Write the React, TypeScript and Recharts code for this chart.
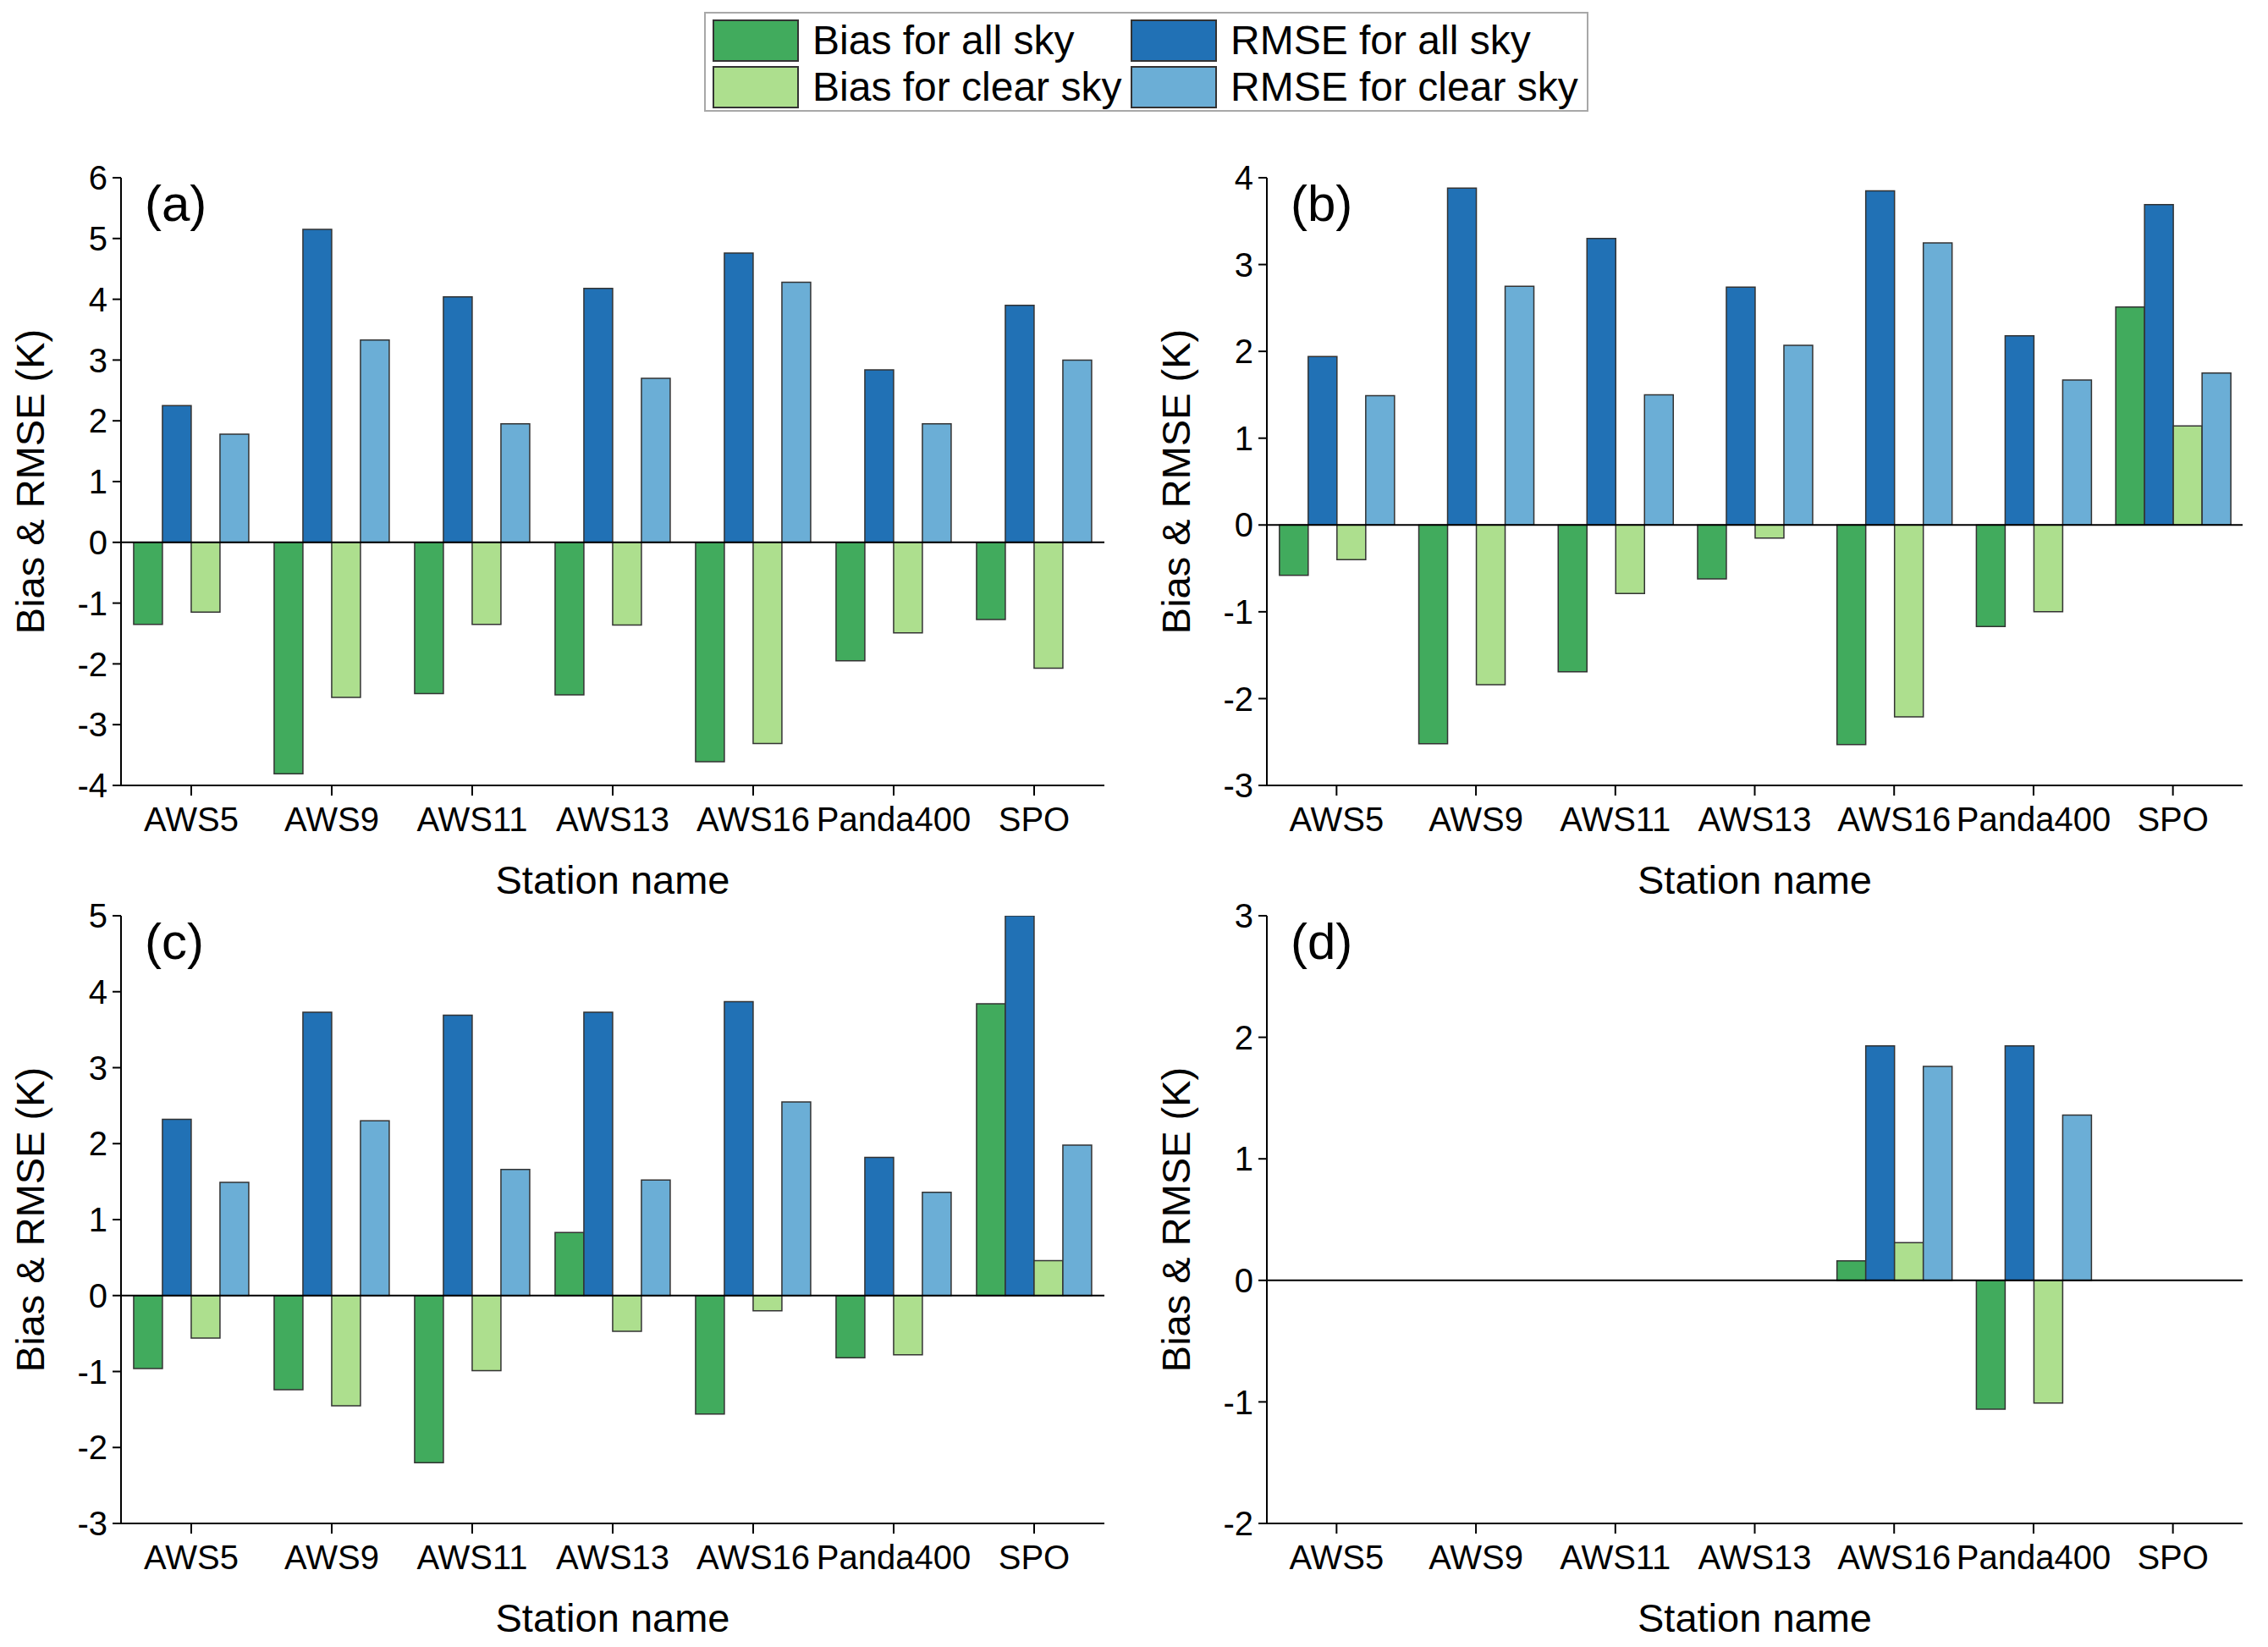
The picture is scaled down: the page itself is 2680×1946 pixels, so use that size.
import { BarChart, Bar, XAxis, YAxis, ReferenceLine } from 'recharts';

const stations = ['AWS5', 'AWS9', 'AWS11', 'AWS13', 'AWS16', 'Panda400', 'SPO'];

// panel (a)
const aBiasAll = [-1.35, -3.81, -2.49, -2.51, -3.61, -1.95, -1.27];
const aRmseAll = [2.25, 5.15, 4.04, 4.18, 4.76, 2.84, 3.9];
const aBiasClear = [-1.15, -2.55, -1.35, -1.36, -3.31, -1.49, -2.07];
const aRmseClear = [1.78, 3.33, 1.95, 2.7, 4.28, 1.95, 3.0];

// panel (b)
const bBiasAll = [-0.58, -2.52, -1.69, -0.62, -2.53, -1.17, 2.51];
const bRmseAll = [1.94, 3.88, 3.3, 2.74, 3.85, 2.18, 3.69];
const bBiasClear = [-0.4, -1.84, -0.79, -0.15, -2.21, -1.0, 1.14];
const bRmseClear = [1.49, 2.75, 1.5, 2.07, 3.25, 1.67, 1.75];

// panel (c)
const cBiasAll = [-0.96, -1.24, -2.2, 0.83, -1.56, -0.82, 3.84];
const cRmseAll = [2.32, 3.73, 3.69, 3.73, 3.87, 1.82, 5.0];
const cBiasClear = [-0.56, -1.45, -0.99, -0.47, -0.2, -0.78, 0.46];
const cRmseClear = [1.49, 2.3, 1.66, 1.52, 2.55, 1.36, 1.98];

// panel (d) only AWS16 and Panda400 have values
const dBiasAll = [null, null, null, null, 0.16, -1.06, null];
const dRmseAll = [null, null, null, null, 1.93, 1.93, null];
const dBiasClear = [null, null, null, null, 0.31, -1.01, null];
const dRmseClear = [null, null, null, null, 1.76, 1.36, null];

const aTicks = [-4, -3, -2, -1, 0, 1, 2, 3, 4, 5, 6];
const bTicks = [-3, -2, -1, 0, 1, 2, 3, 4];
const cTicks = [-3, -2, -1, 0, 1, 2, 3, 4, 5];
const dTicks = [-2, -1, 0, 1, 2, 3];

const seriesNames = ['Bias for all sky', 'RMSE for all sky', 'Bias for clear sky', 'RMSE for clear sky'];
const COLORS = {
  biasAll: '#41ab5d',
  rmseAll: '#2171b5',
  biasClear: '#addf8e',
  rmseClear: '#6baed6',
};

const FONT = '"Liberation Sans", Arial, sans-serif';

function build(biasAll, rmseAll, biasClear, rmseClear) {
  return stations.map((name, i) => ({
    name,
    biasAll: biasAll[i],
    rmseAll: rmseAll[i],
    biasClear: biasClear[i],
    rmseClear: rmseClear[i],
  }));
}

function YLabel(props: any) {
  const { viewBox } = props;
  const x = viewBox.x + viewBox.width - 108;
  const y = viewBox.y + viewBox.height / 2;
  return (
    <text
      x={x}
      y={y}
      transform={`rotate(-90, ${x}, ${y})`}
      textAnchor="middle"
      dominantBaseline="central"
      fontSize={47}
      fontFamily={FONT}
      fill="#000"
    >
      Bias &amp; RMSE (K)
    </text>
  );
}

function Panel({ data, ticks, tag, left, top, yWidth, right }) {
  return (
    <div style={{ position: 'absolute', left, top, width: 1340, height: 1074 }}>
      <BarChart
        width={1340}
        height={1074}
        data={data}
        margin={{ top: 210, right, left: 0, bottom: 16 }}
        barGap={0}
        barCategoryGap="9%"
      >
        <XAxis
          dataKey="name"
          interval={0}
          height={130}
          tickSize={12}
          tickMargin={14}
          axisLine={{ stroke: '#000', strokeWidth: 2 }}
          tickLine={{ stroke: '#000', strokeWidth: 2 }}
          tick={{ fontSize: 40, fill: '#000', fontFamily: FONT }}
          label={{
            value: 'Station name',
            position: 'insideBottom',
            offset: 2,
            fontSize: 47,
            fill: '#000',
            fontFamily: FONT,
          }}
        />
        <YAxis
          width={yWidth}
          domain={[ticks[0], ticks[ticks.length - 1]]}
          ticks={ticks}
          allowDataOverflow
          interval={0}
          tickSize={10}
          tickMargin={6}
          axisLine={{ stroke: '#000', strokeWidth: 2 }}
          tickLine={{ stroke: '#000', strokeWidth: 2 }}
          tick={{ fontSize: 40, fill: '#000', fontFamily: FONT }}
          label={<YLabel />}
        />
        <Bar dataKey="biasAll" name={seriesNames[0]} fill={COLORS.biasAll} stroke="#333" strokeWidth={1.5} isAnimationActive={false} />
        <Bar dataKey="rmseAll" name={seriesNames[1]} fill={COLORS.rmseAll} stroke="#333" strokeWidth={1.5} isAnimationActive={false} />
        <Bar dataKey="biasClear" name={seriesNames[2]} fill={COLORS.biasClear} stroke="#333" strokeWidth={1.5} isAnimationActive={false} />
        <Bar dataKey="rmseClear" name={seriesNames[3]} fill={COLORS.rmseClear} stroke="#333" strokeWidth={1.5} isAnimationActive={false} />
        <ReferenceLine y={0} stroke="#000" strokeWidth={2} />
      </BarChart>
      <div
        style={{
          position: 'absolute',
          left: yWidth + 28,
          top: 206,
          fontSize: 60,
          fontFamily: FONT,
          color: '#000',
        }}
      >
        {tag}
      </div>
    </div>
  );
}

function LegendBox() {
  const items = [
    { label: seriesNames[0], color: COLORS.biasAll },
    { label: seriesNames[1], color: COLORS.rmseAll },
    { label: seriesNames[2], color: COLORS.biasClear },
    { label: seriesNames[3], color: COLORS.rmseClear },
  ];
  return (
    <div
      style={{
        position: 'absolute',
        left: 832,
        top: 14,
        width: 1045,
        height: 118,
        border: '2px solid #a8a8a8',
        display: 'grid',
        gridTemplateColumns: '494px 1fr',
        gridTemplateRows: '1fr 1fr',
        padding: '4px 8px',
        boxSizing: 'border-box',
        fontFamily: FONT,
        fontSize: 48,
        color: '#000',
      }}
    >
      {items.map((it) => (
        <div key={it.label} style={{ display: 'flex', alignItems: 'center' }}>
          <div
            style={{
              width: 102,
              height: 50,
              background: it.color,
              border: '2px solid #333',
              boxSizing: 'border-box',
              marginRight: 16,
            }}
          />
          <span>{it.label}</span>
        </div>
      ))}
    </div>
  );
}

export default function App() {
  return (
    <div style={{ position: 'absolute', left: 0, top: 0, width: 2680, height: 1946, background: '#fff' }}>
      <LegendBox />
      <Panel data={build(aBiasAll, aRmseAll, aBiasClear, aRmseClear)} ticks={aTicks} tag="(a)" left={0} top={0} yWidth={143} right={35} />
      <Panel data={build(bBiasAll, bRmseAll, bBiasClear, bRmseClear)} ticks={bTicks} tag="(b)" left={1340} top={0} yWidth={157} right={30} />
      <Panel data={build(cBiasAll, cRmseAll, cBiasClear, cRmseClear)} ticks={cTicks} tag="(c)" left={0} top={872} yWidth={143} right={35} />
      <Panel data={build(dBiasAll, dRmseAll, dBiasClear, dRmseClear)} ticks={dTicks} tag="(d)" left={1340} top={872} yWidth={157} right={30} />
    </div>
  );
}
